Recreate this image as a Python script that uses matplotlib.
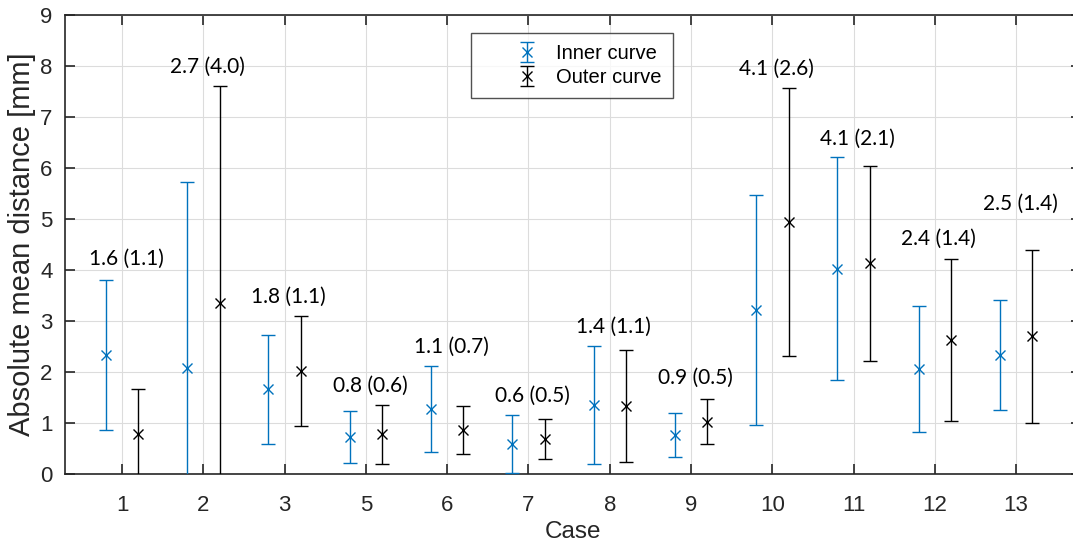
import matplotlib
matplotlib.use("Agg")
import matplotlib.pyplot as plt
import numpy as np

# Datos
cases = ['1', '2', '3', '5', '6', '7', '8', '9', '10', '11', '12', '13']
inner_mean = [2.34, 2.08, 1.66, 0.72, 1.28, 0.59, 1.35, 0.77, 3.22, 4.03, 2.06, 2.34]
inner_err = [1.47, 3.64, 1.07, 0.51, 0.84, 0.56, 1.16, 0.43, 2.25, 2.19, 1.23, 1.08]
outer_mean = [0.78, 3.35, 2.02, 0.78, 0.86, 0.68, 1.33, 1.03, 4.94, 4.13, 2.63, 2.70]
outer_err = [0.88, 4.27, 1.08, 0.58, 0.47, 0.39, 1.10, 0.45, 2.63, 1.91, 1.58, 1.69]
labels = ['1.6 (1.1)', '2.7 (4.0)', '1.8 (1.1)', '0.8 (0.6)', '1.1 (0.7)', '0.6 (0.5)',
          '1.4 (1.1)', '0.9 (0.5)', '4.1 (2.6)', '4.1 (2.1)', '2.4 (1.4)', '2.5 (1.4)']
label_y = [4.22, 7.98, 3.47, 1.73, 2.49, 1.54, 2.88, 1.89, 7.95, 6.58, 4.62, 5.30]

blue = '#0072BD'
dark = '#262626'
sans = ['Liberation Sans', 'DejaVu Sans']
narrow = ['Liberation Sans Narrow', 'Liberation Sans', 'DejaVu Sans']

fig = plt.figure(figsize=(10.73, 5.43), dpi=100)
# el eje derecho queda fuera del borde, como en la original
ax = fig.add_axes([0.0608, 0.127, 0.9468, 0.845])

x = np.arange(1, len(cases) + 1)

ax.errorbar(x - 0.2, inner_mean, yerr=inner_err, fmt='x', color=blue, ecolor=blue,
            elinewidth=1, capsize=4.7, markersize=7, mew=1, label='Inner curve', zorder=3)
ax.errorbar(x + 0.2, outer_mean, yerr=outer_err, fmt='x', color='black', ecolor='black',
            elinewidth=1, capsize=4.7, markersize=7, mew=1, label='Outer curve', zorder=3)

for xi, txt, yi in zip(x, labels, label_y):
    ax.text(xi + 0.05, yi, txt, ha='center', va='center', fontsize=15,
            family='Lato', color='black')

ax.set_xlim(0.3, 12.8)
ax.set_ylim(0, 9)
ax.set_xticks(x)
ax.set_xticklabels(cases)
ax.set_yticks(range(0, 10))

ax.grid(True, color='#dcdcdc', linewidth=0.8)
ax.set_axisbelow(True)
ax.tick_params(direction='in', length=7, width=1.2, top=True, right=True,
               colors=dark, labelcolor=dark)
ax.tick_params(axis='x', pad=15)
ax.tick_params(axis='y', pad=9)
for lab in ax.get_xticklabels() + ax.get_yticklabels():
    lab.set_family(narrow)
    lab.set_fontsize(16)
for s in ax.spines.values():
    s.set_color(dark)
    s.set_linewidth(1.2)

ax.set_xlabel('Case', fontsize=17.5, color=dark, labelpad=4, family=sans)
ax.set_ylabel('Absolute mean distance [mm]', fontsize=21, color=dark, labelpad=3, family=sans)

leg = ax.legend(loc='upper center', bbox_to_anchor=(0.4985, 0.962), borderaxespad=0,
                prop={'family': sans, 'size': 14.5},
                frameon=True, fancybox=False, edgecolor=dark, handlelength=4.5,
                handletextpad=-0.8, borderpad=0.55, labelspacing=0.25)
leg.get_frame().set_linewidth(1)
for t in leg.get_texts():
    t.set_color('black')

fig.savefig('out.png', dpi=100)
